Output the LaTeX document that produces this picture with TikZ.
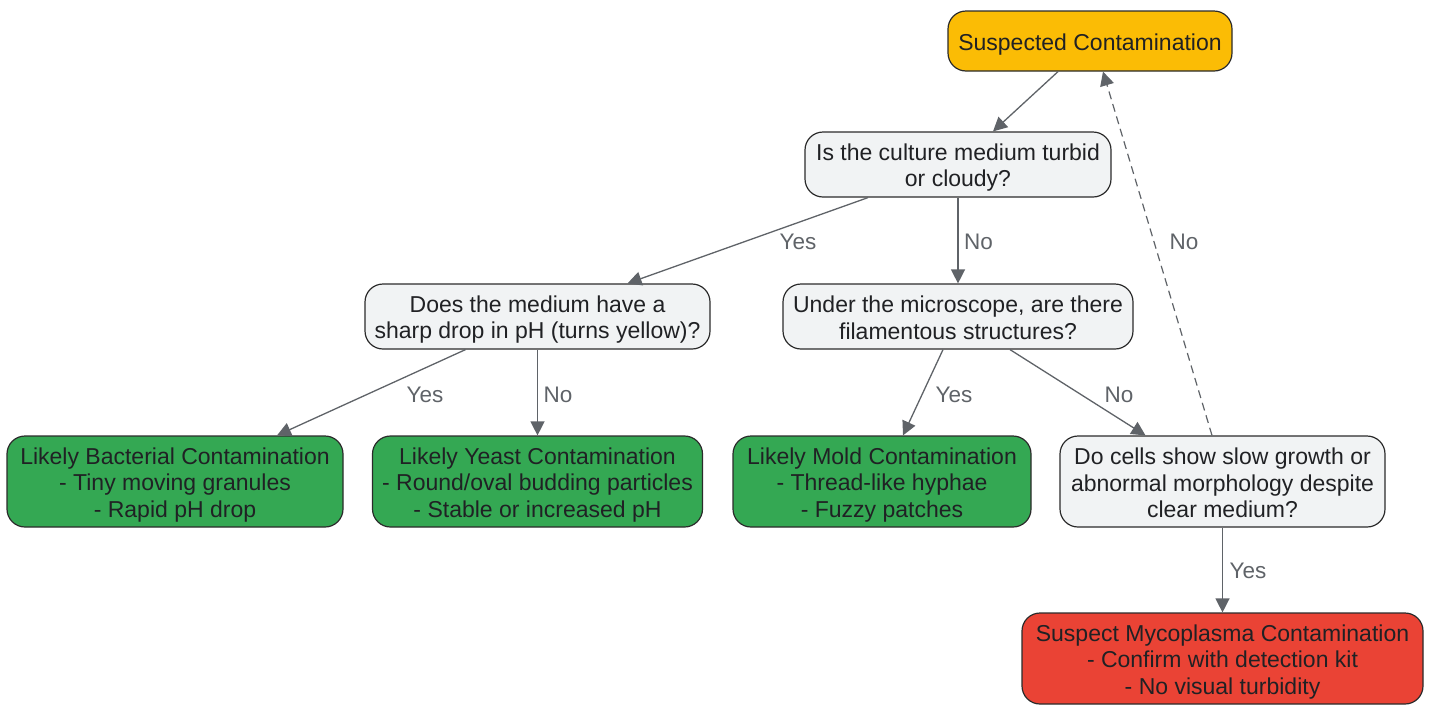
\documentclass[tikz,border=0pt]{standalone}
\usepackage{fontspec}
\setmainfont{Liberation Sans}
\usetikzlibrary{arrows.meta}
\definecolor{txt}{HTML}{202124}
\definecolor{edgec}{HTML}{5F6368}
\definecolor{greyf}{HTML}{F1F3F4}
\definecolor{greenf}{HTML}{34A853}
\definecolor{redf}{HTML}{EA4335}
\definecolor{yellowf}{HTML}{FBBC05}
\definecolor{borderc}{HTML}{2B2B2B}
\newcommand{\tstrut}{\rule{0pt}{22.8pt}}
\newcommand{\bstrut}{\rule[-3.7pt]{0pt}{0pt}}
\tikzset{
  box/.style={draw=borderc, line width=1.2pt, rounded corners=18pt, align=center,
    text=txt, font=\fontsize{23}{26.5}\selectfont, inner sep=0pt},
  qbox/.style={box, fill=greyf},
  gbox/.style={box, fill=greenf},
  arr/.style={draw=edgec, line width=1.3pt, -{Triangle[length=14pt,width=14pt]}},
  lbl/.style={text=edgec, font=\fontsize{22.5}{26}\selectfont, inner sep=0pt}
}
\begin{document}
\begin{tikzpicture}[x=1pt,y=-1pt]
\useasboundingbox (0,0) rectangle (1434,705);
\node[box, fill=yellowf, minimum width=284pt, minimum height=60pt] (start) at (1090,41) {\tstrut Suspected Contamination\bstrut};
\node[qbox, minimum width=306pt, minimum height=65pt] (q1) at (958,164.5) {\tstrut Is the culture medium turbid\\or cloudy?\bstrut};
\node[qbox, minimum width=345pt, minimum height=65pt] (q2) at (537.5,316.5) {\tstrut Does the medium have a\\sharp drop in pH (turns yellow)?\bstrut};
\node[qbox, minimum width=350pt, minimum height=65pt] (q3) at (958,316.5) {\tstrut Under the microscope, are there\\filamentous structures?\bstrut};
\node[gbox, minimum width=336pt, minimum height=91pt] (bact) at (175,481.5) {\tstrut Likely Bacterial Contamination\\- Tiny moving granules\\- Rapid pH drop\bstrut};
\node[gbox, minimum width=330pt, minimum height=91pt] (yeast) at (537.5,481.5) {\tstrut Likely Yeast Contamination\\- Round/oval budding particles\\- Stable or increased pH\bstrut};
\node[gbox, minimum width=298pt, minimum height=91pt] (mold) at (882,481.5) {\tstrut Likely Mold Contamination\\- Thread-like hyphae\\- Fuzzy patches\bstrut};
\node[qbox, minimum width=325pt, minimum height=91pt] (q4) at (1222.5,481.5) {\tstrut Do cells show slow growth or\\abnormal morphology despite\\clear medium?\bstrut};
\node[box, fill=redf, minimum width=401pt, minimum height=91pt] (myco) at (1222.5,658.5) {\tstrut Suspect Mycoplasma Contamination\\- Confirm with detection kit\\- No visual turbidity\bstrut};

\draw[arr] ([xshift=-32pt]start.south) -- ([xshift=35pt]q1.north);
\draw[arr] ([xshift=-90pt]q1.south) -- ([xshift=90pt]q2.north);
\draw[arr] (q1.south) -- (q3.north);
\draw[arr] ([xshift=-72pt]q2.south) -- ([xshift=102pt]bact.north);
\draw[arr] (q2.south) -- (yeast.north);
\draw[arr] ([xshift=-15pt]q3.south) -- ([xshift=21pt]mold.north);
\draw[arr] ([xshift=52pt]q3.south) -- ([xshift=-77pt]q4.north);
\draw[arr] (q4.south) -- (myco.north);
\draw[arr, dashed, dash pattern=on 8pt off 5pt, line width=1.2pt] ([xshift=-10.5pt]q4.north) -- ([xshift=13pt]start.south);

\node[lbl] (l1) at (798,242) {Yes};
\node[lbl] (l2) at (978.5,242) {No};
\node[lbl] (l3) at (425,395) {Yes};
\node[lbl] (l4) at (558,395) {No};
\node[lbl] (l5) at (954,395) {Yes};
\node[lbl] (l6) at (1119,395) {No};
\node[lbl] (l7) at (1248,571) {Yes};
\node[lbl] (l8) at (1184,242) {No};
\end{tikzpicture}
\end{document}
